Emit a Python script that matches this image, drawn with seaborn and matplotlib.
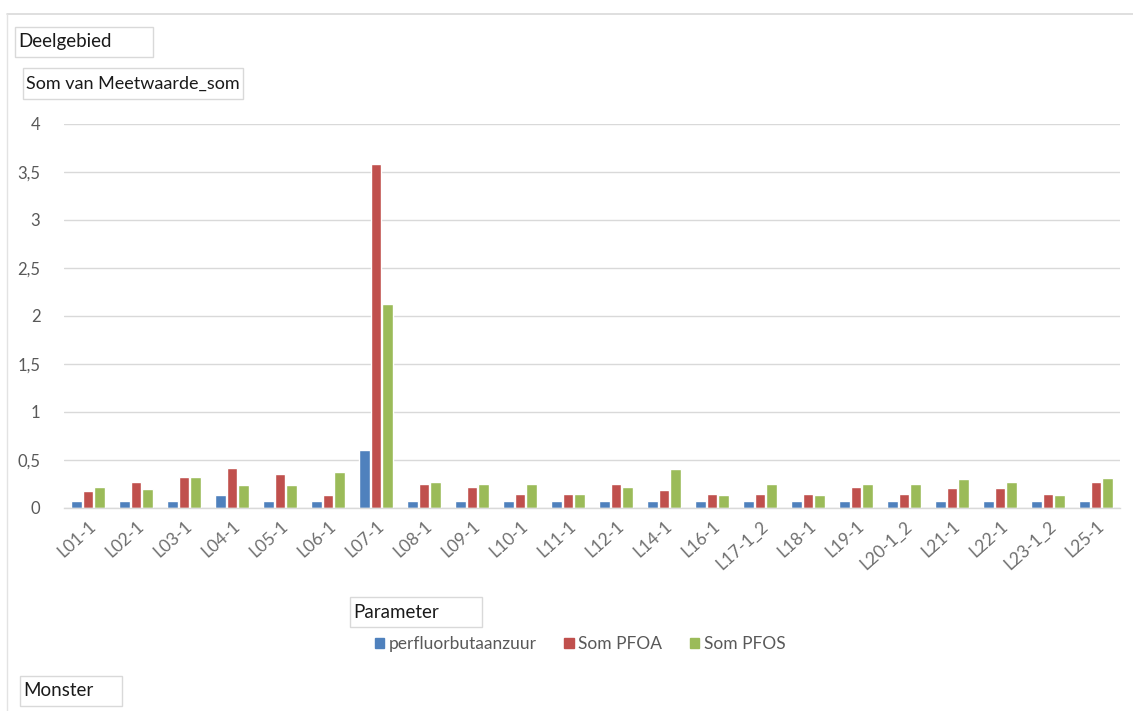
import matplotlib
matplotlib.use("Agg")
import matplotlib.pyplot as plt
from matplotlib.patches import Rectangle
from matplotlib.lines import Line2D
import seaborn as sns
import pandas as pd

# Sample codes (x axis)
monsters = ["L01-1", "L02-1", "L03-1", "L04-1", "L05-1", "L06-1", "L07-1",
            "L08-1", "L09-1", "L10-1", "L11-1", "L12-1", "L14-1", "L16-1",
            "L17-1_2", "L18-1", "L19-1", "L20-1_2", "L21-1", "L22-1",
            "L23-1_2", "L25-1"]

# Measured sums per parameter
pfba = [0.075, 0.075, 0.075, 0.14, 0.075, 0.075, 0.60, 0.075, 0.075, 0.075, 0.075,
        0.075, 0.075, 0.075, 0.075, 0.075, 0.075, 0.075, 0.075, 0.075, 0.075, 0.075]
som_pfoa = [0.18, 0.27, 0.32, 0.42, 0.35, 0.14, 3.58, 0.25, 0.22, 0.15, 0.15,
            0.25, 0.19, 0.15, 0.15, 0.15, 0.22, 0.15, 0.21, 0.21, 0.15, 0.27]
som_pfos = [0.22, 0.20, 0.32, 0.24, 0.24, 0.38, 2.13, 0.27, 0.25, 0.25, 0.15,
            0.22, 0.41, 0.14, 0.25, 0.14, 0.25, 0.25, 0.30, 0.27, 0.14, 0.31]

parameters = ["perfluorbutaanzuur", "Som PFOA", "Som PFOS"]
colors = ["#4F81BD", "#C0504D", "#9BBB59"]

y_ticks = [0, 0.5, 1, 1.5, 2, 2.5, 3, 3.5, 4]
y_labels = ["0", "0,5", "1", "1,5", "2", "2,5", "3", "3,5", "4"]

rows = []
for name, vals in zip(parameters, [pfba, som_pfoa, som_pfos]):
    for m, v in zip(monsters, vals):
        rows.append({"Monster": m, "Parameter": name, "Waarde": v})
df = pd.DataFrame(rows)

sns.set_theme(style="white")
plt.rcParams["font.family"] = ["Lato", "DejaVu Sans"]

W, H = 1133, 711
fig = plt.figure(figsize=(W / 100, H / 100), dpi=100)
fig.patch.set_facecolor("white")


def fx(px):
    return px / W


def fy(py):
    return 1 - py / H


ax = fig.add_axes([fx(64), fy(508), fx(1120) - fx(64), fy(124) - fy(508)])

sns.barplot(data=df, x="Monster", y="Waarde", hue="Parameter",
            hue_order=parameters, order=monsters, palette=colors,
            width=0.72, gap=0.1, saturation=1, legend=False, ax=ax,
            errorbar=None)

ax.set_ylim(0, 4)
ax.set_xlim(-0.5, len(monsters) - 0.5)
ax.set_yticks(y_ticks)
ax.set_yticklabels(y_labels)
ax.yaxis.grid(True, color="#D9D9D9", linewidth=1)
ax.set_axisbelow(True)
for s in ["top", "right", "left"]:
    ax.spines[s].set_visible(False)
ax.spines["bottom"].set_color("#D9D9D9")
ax.spines["bottom"].set_linewidth(1)
ax.set_xlabel("")
ax.set_ylabel("")
ax.tick_params(axis="y", length=0, pad=17, labelsize=12, labelcolor="#595959")
ax.tick_params(axis="x", length=0, pad=7, labelsize=12.5, labelcolor="#6E6E6E")
for lbl in ax.get_xticklabels():
    lbl.set_rotation(42)
    lbl.set_ha("right")
    lbl.set_rotation_mode("anchor")

# Legend below the plot area
handles = [Rectangle((0, 0), 1, 1, color=c) for c in colors]
fig.legend(handles, parameters, loc="center", bbox_to_anchor=(fx(580), fy(644)),
           ncol=3, frameon=False, fontsize=12.5, labelcolor="#595959",
           handlelength=0.55, handleheight=0.55, handletextpad=0.25,
           columnspacing=1.6)

# Outer frame lines of the chart area
fig.add_artist(Line2D([fx(7), fx(1133)], [fy(14), fy(14)], color="#D9D9D9", lw=1.2))
fig.add_artist(Line2D([fx(7), fx(7)], [fy(14), fy(711)], color="#E3E3E3", lw=1.0))


# Pivot field buttons
def field_button(x0, y0, x1, y1, text, size=13):
    fig.add_artist(Rectangle((fx(x0), fy(y1)), fx(x1) - fx(x0), fy(y0) - fy(y1),
                             transform=fig.transFigure, facecolor="white",
                             edgecolor="#D9D9D9", lw=1))
    fig.text(fx(x0 + 3), fy((y0 + y1) / 2), text, ha="left", va="center",
             fontsize=size, color="#1A1A1A")


field_button(15, 27, 153, 57, "Deelgebied", 13.5)
field_button(23, 68, 243, 99, "Som van Meetwaarde_som", 13)
field_button(350, 597, 482, 627, "Parameter", 13.5)
field_button(20, 676, 122, 706, "Monster", 13.5)

fig.savefig("out.png", dpi=100, facecolor="white")
